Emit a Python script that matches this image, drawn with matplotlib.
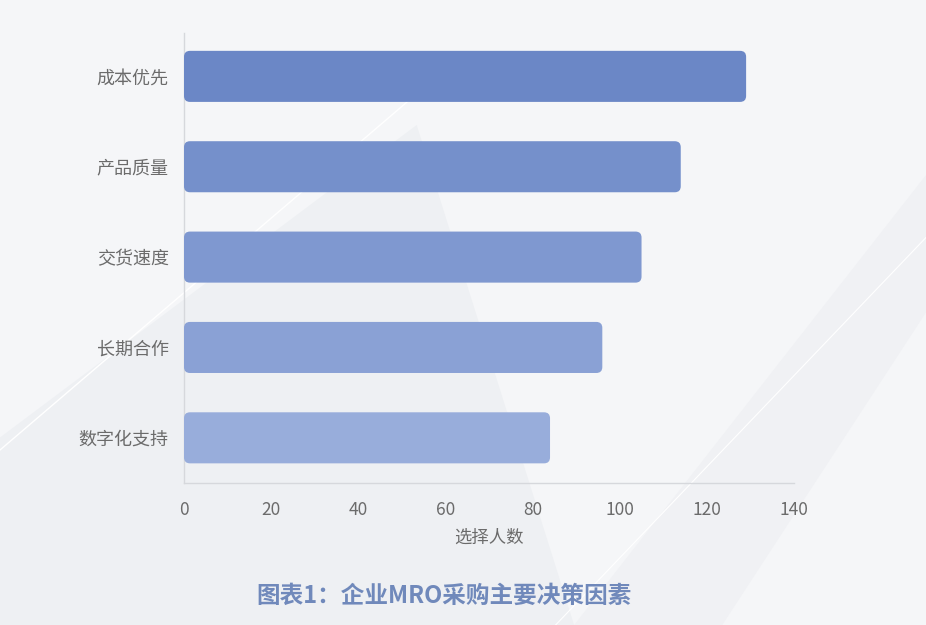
import numpy as np
import matplotlib
matplotlib.use("Agg")
import matplotlib.pyplot as plt
from matplotlib.patches import FancyBboxPatch, Polygon

plt.rcParams['font.family'] = ['Noto Sans CJK SC', 'DejaVu Sans']

factors = ['成本优先', '产品质量', '交货速度', '长期合作', '数字化支持']
counts = [129, 114, 105, 96, 84]
bar_colors = ['#6b87c6', '#7590cb', '#7f98d0', '#8aa1d5', '#98addb']
xticks = [0, 20, 40, 60, 80, 100, 120, 140]
xlabel = '选择人数'
title = '图表1：企业MRO采购主要决策因素'

fig = plt.figure(figsize=(9.26, 6.25), dpi=100)
fig.patch.set_facecolor('#f5f6f8')

# faint diagonal background decoration
bg = fig.add_axes((0, 0, 1, 1), zorder=-10)
bg.set_xlim(0, 1)
bg.set_ylim(0, 1)
bg.axis('off')
bg.add_patch(Polygon([(0, 0), (0, 0.30), (0.45, 0.80), (0.62, 0.0)], closed=True,
                     facecolor='#eef0f3', edgecolor='none'))
bg.add_patch(Polygon([(0.62, 0), (1.0, 0.72), (1.0, 0.5), (0.78, 0)], closed=True,
                     facecolor='#f0f1f4', edgecolor='none'))
bg.plot([0.0, 0.45], [0.28, 0.85], color='white', lw=1.0)
bg.plot([0.6, 1.0], [0.0, 0.62], color='white', lw=0.8)

ax = fig.add_axes((0.1987, 0.2272, 0.6588, 0.72))
ax.set_facecolor('none')

h = 0.565
sx, sy = 4.357, 90.4  # px per data unit
r = 6.0 / sx
for i, (name, v) in enumerate(zip(factors, counts)):
    p = FancyBboxPatch((0, i - h / 2), v, h,
                       boxstyle='round,pad=0,rounding_size=%f' % r,
                       mutation_aspect=(6.0 / sy) / r,
                       facecolor=bar_colors[i], edgecolor='none', zorder=3)
    ax.add_patch(p)

ax.set_xlim(0, 140)
ax.set_ylim(4.5, -0.48)
ax.set_yticks(range(len(factors)))
ax.set_yticklabels(factors, fontsize=13)
ax.set_xticks(xticks)
ax.tick_params(axis='both', length=0, colors='#6b6b6b')
ax.tick_params(axis='x', labelsize=12.5, pad=13)
ax.tick_params(axis='y', pad=11)
for s in ['top', 'right']:
    ax.spines[s].set_visible(False)
for s in ['left', 'bottom']:
    ax.spines[s].set_color('#d6d8dc')
    ax.spines[s].set_linewidth(1.0)
ax.set_xlabel(xlabel, color='#6b6b6b', fontsize=12.5, labelpad=7)

fig.text(444 / 926, 1 - 596 / 625, title, ha='center', va='center',
         fontsize=17, fontweight='bold', color='#7089bb')

fig.savefig('out.png', dpi=100, facecolor=fig.get_facecolor())
